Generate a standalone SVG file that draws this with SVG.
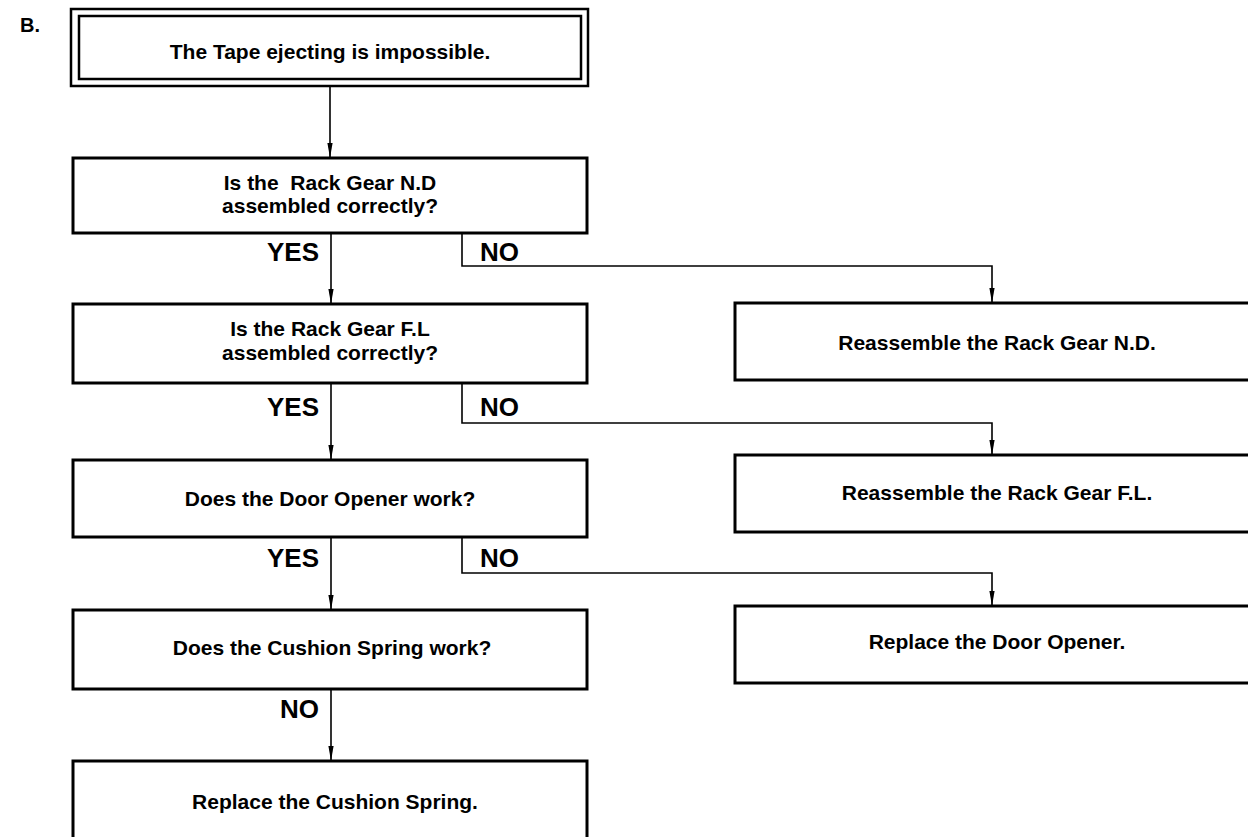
<svg xmlns="http://www.w3.org/2000/svg" width="1248" height="837" viewBox="0 0 1248 837">
<defs>
<style>
.box{fill:#fff;stroke:#000;stroke-width:3}
.tbox{fill:none;stroke:#000;stroke-width:2.5}
.t{font-family:"Liberation Sans",Arial,sans-serif;font-weight:bold;font-size:21px;fill:#000;text-anchor:middle}
.lbl{font-family:"Liberation Sans",Arial,sans-serif;font-weight:bold;font-size:26px;fill:#000}
.c{fill:none;stroke:#000;stroke-width:1.6;marker-end:url(#ah)}
</style>
<marker id="ah" markerUnits="userSpaceOnUse" viewBox="0 -3 15 6" refX="15" refY="0" markerWidth="15" markerHeight="6" orient="auto">
<path d="M0,-2.6 L15,0 L0,2.6 z" fill="#000"/>
</marker>
</defs>
<rect width="1248" height="837" fill="#fff"/>
<text class="lbl" x="20" y="32" style="font-size:20px">B.</text>

<g id="connectors">
<path class="c" d="M330,86 V158"/>
<path class="c" d="M331,233 V304"/>
<path class="c" d="M462,233 V266 H992 V303"/>
<path class="c" d="M331,383 V460"/>
<path class="c" d="M462,383 V423 H992 V455"/>
<path class="c" d="M331,537 V610"/>
<path class="c" d="M462,537 V573 H992 V606"/>
<path class="c" d="M331,689 V761"/>
<text class="lbl" x="319" y="261" text-anchor="end">YES</text>
<text class="lbl" x="480" y="261">NO</text>
<text class="lbl" x="319" y="416" text-anchor="end">YES</text>
<text class="lbl" x="480" y="416">NO</text>
<text class="lbl" x="319" y="567" text-anchor="end">YES</text>
<text class="lbl" x="480" y="567">NO</text>
<text class="lbl" x="319" y="718" text-anchor="end">NO</text>
</g>

<g id="start">
<rect class="tbox" x="71" y="9" width="517" height="77"/>
<rect class="tbox" x="79" y="16" width="502" height="63"/>
<text class="t" x="330" y="59">The Tape ejecting is impossible.</text>
</g>

<g id="q1">
<rect class="box" x="73" y="158" width="514" height="75"/>
<text class="t" x="330" y="190" xml:space="preserve">Is the  Rack Gear N.D</text>
<text class="t" x="330" y="213">assembled correctly?</text>
</g>

<g id="q2">
<rect class="box" x="73" y="304" width="514" height="79"/>
<text class="t" x="330" y="336">Is the Rack Gear F.L</text>
<text class="t" x="330" y="360">assembled correctly?</text>
</g>

<g id="q3">
<rect class="box" x="73" y="460" width="514" height="77"/>
<text class="t" x="330" y="506">Does the Door Opener work?</text>
</g>

<g id="q4">
<rect class="box" x="73" y="610" width="514" height="79"/>
<text class="t" x="332" y="655">Does the Cushion Spring work?</text>
</g>

<g id="a4">
<rect class="box" x="73" y="761" width="514" height="100"/>
<text class="t" x="335" y="809">Replace the Cushion Spring.</text>
</g>

<g id="a1">
<rect class="box" x="735" y="303" width="530" height="77"/>
<text class="t" x="997" y="350">Reassemble the Rack Gear N.D.</text>
</g>

<g id="a2">
<rect class="box" x="735" y="455" width="530" height="77"/>
<text class="t" x="997" y="500">Reassemble the  Rack Gear F.L.</text>
</g>

<g id="a3">
<rect class="box" x="735" y="606" width="530" height="77"/>
<text class="t" x="997" y="649">Replace the Door Opener.</text>
</g>
</svg>
